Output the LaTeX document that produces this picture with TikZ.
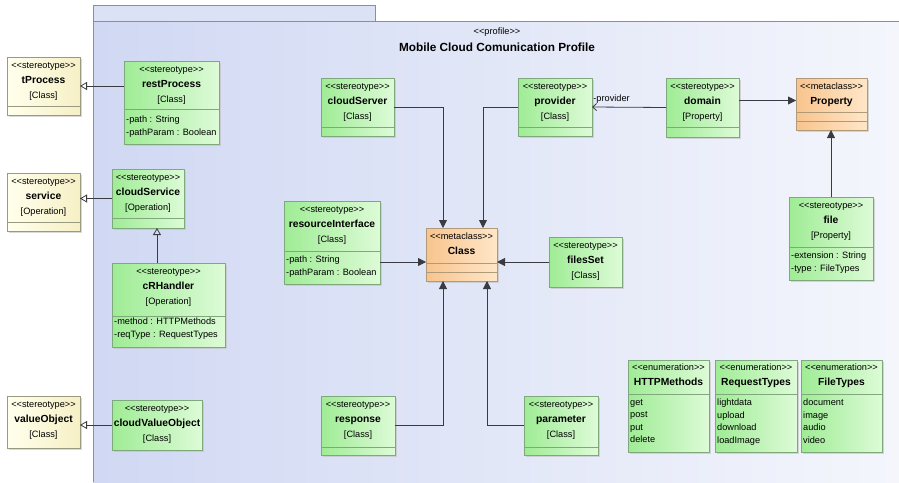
\documentclass[tikz,border=0pt]{standalone}
\usepackage{fontspec}
\setmainfont{Liberation Sans}[Ligatures=TeXOff]
\usetikzlibrary{arrows.meta,shadows}

\definecolor{pkgA}{HTML}{D0D8F3}
\definecolor{pkgB}{HTML}{F4F6FC}
\definecolor{pkgtab}{HTML}{DCE2F5}
\definecolor{pkgline}{HTML}{8A8FA0}
\definecolor{grnA}{HTML}{9FEC95}
\definecolor{grnB}{HTML}{DDFBD7}
\definecolor{grnline}{HTML}{7FA87C}
\definecolor{crmA}{HTML}{FFFFEC}
\definecolor{crmB}{HTML}{F6F0C6}
\definecolor{crmline}{HTML}{9A9A80}
\definecolor{orgA}{HTML}{F8C48E}
\definecolor{orgB}{HTML}{FFE6C8}
\definecolor{orgline}{HTML}{B09A78}
\definecolor{lnk}{HTML}{3A3A42}

\newcommand{\umlname}[1]{{\fontsize{10.3}{15}\selectfont\bfseries #1}}

\tikzset{
    umlbox/.style={draw, line width=.7pt, inner sep=0pt, outer sep=0pt, anchor=north west,
        drop shadow={shadow xshift=1.5pt, shadow yshift=-1.5pt, fill=black!25, opacity=.6}},
    umlstereo/.style={umlbox, draw=grnline, left color=grnA, right color=grnB},
    umlouter/.style={umlbox, draw=crmline, left color=crmA, right color=crmB},
    umlmeta/.style={umlbox, draw=orgline, left color=orgA, right color=orgB},
    umlhead/.style={align=center, inner sep=0pt, anchor=north, font=\fontsize{9.2}{15}\selectfont},
    umlattr/.style={align=left, inner sep=0pt, anchor=north west, font=\fontsize{9.2}{12.5}\selectfont},
    umlgen/.style={draw=lnk, line width=.8pt, -{Triangle[open, length=7pt, width=8pt]}},
    umlext/.style={draw=lnk, line width=.8pt, -{Triangle[length=8pt, width=8pt]}},
    umlassoc/.style={draw=lnk, line width=.8pt, -{Straight Barb[length=4pt, width=7pt]}}
}

\begin{document}
\begin{tikzpicture}[x=1pt, y=-1pt]
    \useasboundingbox (0,0) rectangle (899,482);

    % profile package (runs off the right and bottom edges)
    \draw[pkgline, fill=pkgtab, line width=.8pt] (93,5) rectangle (375,21);
    \fill[left color=pkgA, right color=pkgB] (93,21) rectangle (899,482);
    \draw[pkgline, line width=.8pt] (899,21) -- (93,21) -- (93,482);
    \node[umlhead, anchor=north, font=\fontsize{9.2}{17}\selectfont] (title) at (497,28)
        {<<profile>>\\{\fontsize{11.8}{17}\selectfont\bfseries Mobile Cloud Comunication Profile}};

    % stereotypes outside the profile
    \foreach \nm/\x/\y/\h/\kd in {tProcess/7/57/58/Class, service/7/173/58/Operation, valueObject/7/396/52/Class}{
        \node[umlouter, minimum width=73, minimum height=\h] (\nm) at (\x,\y) {};
        \node[umlhead] (\nm-h) at ([yshift=-5]\nm.north) {<<stereotype>>\\\umlname{\nm}\\ {[\kd]}};
    }
    \foreach \nm in {tProcess, service}
        \draw[crmline, line width=.7pt] ([yshift=-49]\nm.north west) -- ([yshift=-49]\nm.north east);

    % stereotypes of the profile
    \foreach \nm/\x/\y/\w/\h/\kd in {restProcess/124/61/95/83/Class, cloudService/112/169/72/59/Operation,
            cRHandler/112/263/113/84/Operation, cloudValueObject/112/400/90/50/Class,
            cloudServer/321/78/73/58/Class, provider/518/78/74/58/Class, domain/666/78/73/59/Property,
            resourceInterface/284/201/96/83/Class, filesSet/549/237/73/50/Class, file/789/197/84/83/Property,
            response/321/396/74/59/Class, parameter/524/396/74/59/Class}{
        \node[umlstereo, minimum width=\w, minimum height=\h] (\nm) at (\x,\y) {};
        \node[umlhead] (\nm-h) at ([yshift=-5]\nm.north) {<<stereotype>>\\\umlname{\nm}\\ {[\kd]}};
    }
    \foreach \nm/\dv in {restProcess/48, cloudService/49, cRHandler/53, cloudServer/49, provider/49,
            domain/49, resourceInterface/50, file/50, response/51, parameter/51}
        \draw[grnline, line width=.7pt] ([yshift=-\dv]\nm.north west) -- ([yshift=-\dv]\nm.north east);
    \foreach \nm/\tx in {restProcess/{-path : String\\-pathParam : Boolean},
            cRHandler/{-method : HTTPMethods\\-reqType : RequestTypes},
            resourceInterface/{-path : String\\-pathParam : Boolean},
            file/{-extension : String\\-type : FileTypes}}
        \node[umlattr] (\nm-a) at ([xshift=2, yshift=-55]\nm.north west) {\tx};

    % metaclasses
    \foreach \nm/\x/\y/\h/\da/\db in {Property/796/78/52/34/43, Class/426/228/53/35/44}{
        \node[umlmeta, minimum width=71, minimum height=\h] (\nm) at (\x,\y) {};
        \node[umlhead] (\nm-h) at ([yshift=-5]\nm.north) {<<metaclass>>\\\umlname{\nm}};
        \draw[orgline, line width=.7pt] ([yshift=-\da]\nm.north west) -- ([yshift=-\da]\nm.north east);
        \draw[orgline, line width=.7pt] ([yshift=-\db]\nm.north west) -- ([yshift=-\db]\nm.north east);
    }

    % enumerations
    \foreach \nm/\x/\w/\tx in {HTTPMethods/628/81/{get\\post\\put\\delete},
            RequestTypes/715/82/{lightdata\\upload\\download\\loadImage},
            FileTypes/801/81/{document\\image\\audio\\video}}{
        \node[umlstereo, minimum width=\w, minimum height=92] (\nm) at (\x,360) {};
        \node[umlhead] (\nm-h) at ([yshift=-4]\nm.north) {<<enumeration>>\\\umlname{\nm}};
        \draw[grnline, line width=.7pt] ([yshift=-34]\nm.north west) -- ([yshift=-34]\nm.north east);
        \node[umlattr] (\nm-a) at ([xshift=2, yshift=-39]\nm.north west) {\tx};
    }

    % generalizations
    \draw[umlgen] (tProcess.east -| restProcess.west) -- (tProcess.east);
    \draw[umlgen] (cloudService.west) -- (cloudService.west -| service.east);
    \draw[umlgen] (cloudValueObject.west) -- (cloudValueObject.west -| valueObject.east);
    \coordinate (crh) at ([xshift=45]cRHandler.north west);
    \draw[umlgen] (crh) -- (crh |- cloudService.south);

    % extensions
    \draw[umlext] (cloudServer.east) -| ([xshift=17]Class.north west);
    \draw[umlext] (provider.west) -| ([xshift=57]Class.north west);
    \draw[umlext] (response.east) -| ([xshift=17]Class.south west);
    \draw[umlext] (parameter.west) -| ([xshift=61]Class.south west);
    \draw[umlext] (resourceInterface.east |- filesSet.west) -- (Class.west |- filesSet.west);
    \draw[umlext] (filesSet.west) -- (filesSet.west -| Class.east);
    \draw[umlext] ([yshift=7]domain.east) -- ([yshift=7]domain.east -| Property.west);
    \draw[umlext] (file.north) -- (file.north |- Property.south);

    % association
    \draw[umlassoc] (domain.west) -- (provider.east)
        node[anchor=south west, inner sep=1pt, yshift=2, font=\fontsize{9.2}{11}\selectfont] (provrole) {-provider};
\end{tikzpicture}
\end{document}
